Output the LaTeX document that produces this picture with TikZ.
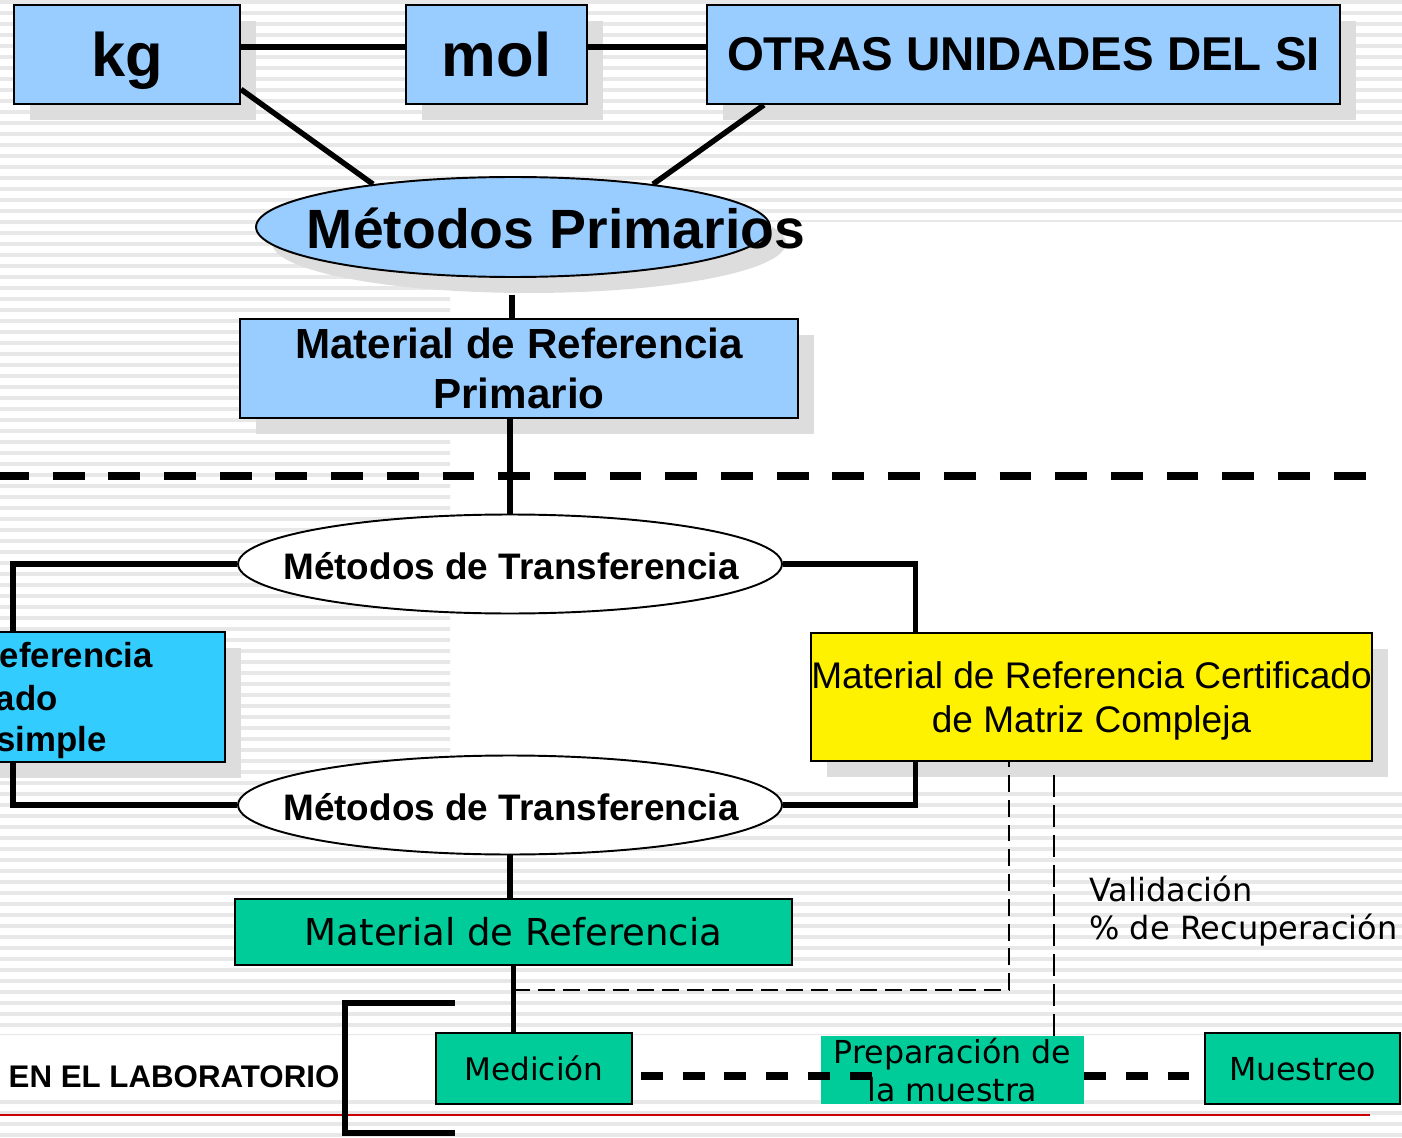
\documentclass[tikz,border=0pt]{standalone}
\usepackage{fontspec}
\setmainfont{Liberation Sans}
\newfontfamily\verdfont{DejaVu Sans}
\usetikzlibrary{shapes.geometric,shadows}

\definecolor{siblue}{HTML}{99CCFF}
\definecolor{simplecyan}{HTML}{33CCFF}
\definecolor{labgreen}{HTML}{00CC99}
\definecolor{shadowgray}{HTML}{DDDDDD}
\definecolor{stripegray}{HTML}{E8E8E8}
\definecolor{rulered}{HTML}{CC0000}

\tikzset{
        stripe/.style={stripegray, line width=2.3pt},
        boxshadow/.style={drop shadow={shadow xshift=0.32cm, shadow yshift=-0.32cm, fill=shadowgray, opacity=1}},
        unitbox/.style={draw, line width=1.1pt, fill=siblue, inner sep=0pt, minimum height=1.98cm, boxshadow},
        unitfont/.style={font=\bfseries\fontsize{35}{40}\selectfont},
        primell/.style={ellipse, draw, line width=1.1pt, fill=siblue, inner sep=0pt, minimum width=10.28cm, minimum height=2cm, boxshadow},
        transell/.style={ellipse, draw, line width=1.1pt, fill=white, inner sep=0pt, minimum width=10.88cm, minimum height=1.98cm},
        transfont/.style={inner sep=0pt, font=\bfseries\fontsize{21}{25}\selectfont},
        simplebox/.style={draw, line width=1.1pt, fill=simplecyan, inner sep=0pt, boxshadow},
        simplefont/.style={anchor=base east, inner sep=0pt, font=\bfseries\fontsize{19.8}{24}\selectfont},
        certbox/.style={draw, line width=1.1pt, fill=yellow, inner sep=0pt, align=center, text depth=0pt, boxshadow, font=\fontsize{21.1}{25.5}\selectfont},
        labbox/.style={draw, line width=1.1pt, fill=labgreen, inner sep=0pt},
        conn/.style={line width=3.1pt},
        bigdash/.style={line width=4pt, dash pattern=on 18.1pt off 13.6pt, dash phase=1.7pt},
        lowdash/.style={line width=4pt, dash pattern=on 12.5pt off 11.3pt},
        valdash/.style={line width=1.4pt, dash pattern=on 9.6pt off 4.5pt},
        valdashlong/.style={line width=1.4pt, dash pattern=on 12.5pt off 4.5pt},
}

\begin{document}
\begin{tikzpicture}[x=0.02cm, y=-0.02cm]
        \useasboundingbox (0,0) rectangle (1402,1138);
        \begin{scope}
                \clip (0,0) rectangle (1402,222) (0,222) rectangle (450,1035)
                        (450,785) rectangle (1402,1035) (0,1100) rectangle (1402,1138);
                \foreach \y in {2,13,...,1138}
                        \draw[stripe] (0,\y) -- (1402,\y);
        \end{scope}
        \draw[rulered, line width=1.2pt] (0,1115) -- (1370,1115);
        \draw[bigdash] (0,476) -- (1385,476);

        \node[unitbox, unitfont, minimum width=4.52cm, text depth=0pt] (kg) at (127,54.5) {kg};
        \node[unitbox, unitfont, minimum width=3.62cm] (mol) at (496.5,54.5) {mol};
        \node[unitbox, minimum width=12.66cm, font=\bfseries\fontsize{27}{32}\selectfont] (otras) at (1023.5,54.5) {OTRAS UNIDADES DEL SI};
        \node[primell] (prim) at (513,227) {};
        \node[inner sep=0pt, font=\bfseries\fontsize{31.5}{36}\selectfont] (primtxt) at (556,228) {Métodos Primarios};
        \node[unitbox, minimum width=11.16cm, align=center, font=\bfseries\fontsize{24}{28.9}\selectfont] (mrp) at (519,368.5) {Material de Referencia\\Primario};
        \node[transell] (trans1) at (510,564) {};
        \node[transfont] (trans1txt) at (511,566) {Métodos de Transferencia};
        \node[simplebox, minimum width=4.9cm, minimum height=2.6cm] (simple) at (102.5,697) {};
        \node[simplefont] (simple1) at (153,667) {eferencia};
        \node[simplefont] (simple2) at (58,710) {ado};
        \node[simplefont] (simple3) at (107,751) {simple};
        \node[certbox, minimum width=11.14cm, minimum height=2.56cm] (cert) at (1091.5,697) {Material de Referencia Certificado\\de Matriz Compleja};
        \node[transell] (trans2) at (510,805) {};
        \node[transfont] (trans2txt) at (511,807) {Métodos de Transferencia};
        \node[labbox, minimum width=11.14cm, minimum height=1.32cm, font=\verdfont\fontsize{21.1}{25}\selectfont] (mr) at (513.5,932) {Material de Referencia};
        \node[labbox, minimum width=3.92cm, minimum height=1.42cm, font=\verdfont\fontsize{17.7}{21}\selectfont] (med) at (534,1068.5) {Medición};
        \node[fill=labgreen, inner sep=0pt, minimum width=5.26cm, minimum height=1.36cm, align=center, font=\verdfont\fontsize{18}{21.5}\selectfont] (prep) at (952.5,1070) {Preparación de\\la muestra};
        \node[labbox, minimum width=3.9cm, minimum height=1.42cm, text depth=0pt, font=\verdfont\fontsize{18}{21}\selectfont] (mues) at (1302.5,1068.5) {Muestreo};
        \node[anchor=west, inner sep=0pt, align=left, font=\verdfont\fontsize{18.2}{22.1}\selectfont] (val) at (1089,911) {Validación\\\% de Recuperación};
        \node[inner sep=0pt, font=\bfseries\fontsize{17.8}{21}\selectfont] (lab) at (174,1077) {EN EL LABORATORIO};

        \coordinate (primfoot) at (512,295);
        \coordinate (valtop) at (1054,775);
        \coordinate (prepjoin) at (872,1076);
        \draw[conn] ([yshift=4.25pt]kg.east) -- ([yshift=4.25pt]mol.west);
        \draw[conn] ([yshift=4.25pt]mol.east) -- ([yshift=4.25pt]otras.west);
        \draw[conn] (kg.-17) -- (prim.163);
        \draw[conn] (otras.191) -- (prim.17);
        \draw[conn] (primfoot) -- (primfoot |- mrp.north);
        \draw[conn] (trans1.north |- mrp.south) -- (trans1.north);
        \draw[conn] (trans1.west) -| ([xshift=0.68cm]simple.north west);
        \draw[conn] ([xshift=0.68cm]simple.south west) |- (trans2.west);
        \draw[conn] (trans1.east) -| ([xshift=2.1cm]cert.north west);
        \draw[conn] ([xshift=2.1cm]cert.south west) |- (trans2.east);
        \draw[conn] (trans2.south) -- (trans2.south |- mr.north);
        \draw[conn] (mr.south) -- (mr.south |- med.north);
        \draw[valdash] (mr.south |- 0,990) -| ([xshift=-1.65cm]cert.south);
        \draw[valdashlong] (valtop) -- (valtop |- prep.north);
        \draw[lowdash, shorten <=4.5pt] (med.east |- prepjoin) -- (prepjoin);
        \draw[lowdash, shorten >=8.5pt] (prep.east |- prepjoin) -- (mues.west |- prepjoin);
        \draw[line width=3.4pt] (455,1003) -| (345,1133) -- (455,1133);
\end{tikzpicture}
\end{document}
